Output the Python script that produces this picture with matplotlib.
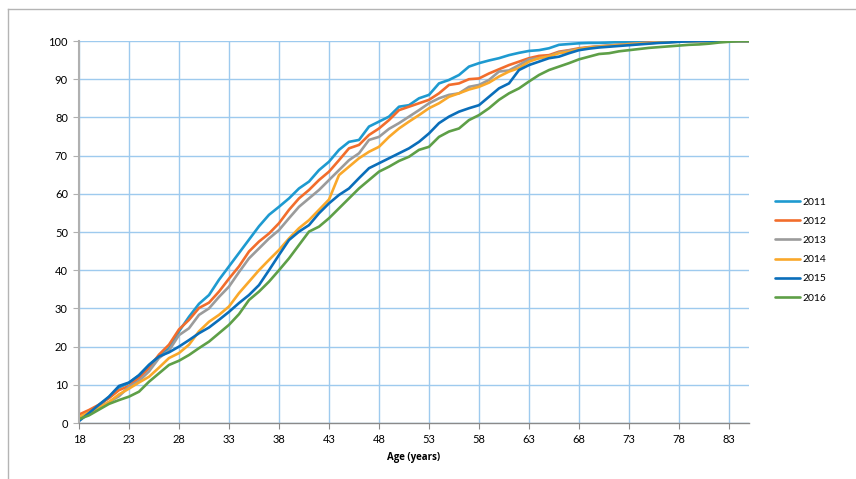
import numpy as np
import matplotlib
matplotlib.use("Agg")
import matplotlib.pyplot as plt
from matplotlib.lines import Line2D

plt.rcParams['font.family'] = ['Lato', 'DejaVu Sans']

# ages 18..85
ages = np.arange(18, 86)

y2011 = [1.0, 2.5, 4.5, 6.8, 9.3, 10.5, 12.5, 15.2, 17.5, 19.5, 24.0, 27.8, 31.2, 33.5, 37.5, 41.0, 44.5, 48.0,
         51.5, 54.5, 56.6, 58.8, 61.4, 63.2, 66.2, 68.4, 71.5, 73.6, 74.1, 77.6, 78.9, 80.2, 82.8, 83.2, 85.0, 85.9,
         88.9, 89.8, 91.1, 93.3, 94.2, 94.9, 95.5, 96.3, 96.9, 97.4, 97.6, 98.1, 99.0, 99.2, 99.4, 99.5, 99.5, 99.6,
         99.7, 99.8, 99.8, 99.9, 99.9, 100, 100, 100, 100, 100, 100, 100, 100, 100]
y2012 = [2.2, 3.4, 4.8, 6.5, 8.6, 9.7, 11.8, 14.4, 17.9, 20.5, 24.5, 27.0, 30.1, 31.5, 34.4, 37.8, 41.0, 44.9,
         47.5, 49.6, 52.3, 55.8, 58.8, 61.0, 63.6, 65.8, 68.8, 71.9, 72.8, 75.4, 77.1, 79.3, 81.9, 82.8, 83.7, 84.6,
         86.3, 88.5, 88.9, 90.0, 90.2, 91.5, 92.6, 93.7, 94.6, 95.5, 96.1, 96.3, 97.2, 97.6, 98.1, 98.4, 98.6, 98.8,
         99.0, 99.2, 99.4, 99.6, 100, 100, 100, 100, 100, 100, 100, 100, 100, 100]
y2013 = [1.0, 2.5, 4.0, 5.5, 7.0, 9.5, 11.0, 13.5, 17.0, 19.0, 23.0, 24.8, 28.3, 30.0, 33.0, 35.7, 39.5, 43.1,
         45.7, 48.3, 50.5, 53.6, 56.6, 58.8, 61.0, 63.6, 66.2, 68.8, 70.6, 74.1, 74.9, 77.0, 78.5, 80.2, 81.9, 83.7,
         85.0, 85.9, 86.3, 88.0, 88.5, 89.8, 92.0, 92.3, 93.7, 95.2, 95.5, 96.0, 97.0, 97.5, 97.9, 98.3, 98.6, 98.8,
         99.0, 99.2, 99.4, 99.5, 99.7, 99.8, 99.9, 100, 100, 100, 100, 100, 100, 100]
y2014 = [1.5, 2.8, 4.0, 5.5, 7.5, 9.0, 10.6, 12.1, 14.5, 17.0, 18.3, 20.5, 24.0, 26.5, 28.3, 30.5, 34.0, 37.0,
         40.0, 42.7, 45.3, 48.3, 51.0, 53.1, 55.8, 58.5, 64.9, 67.1, 69.3, 71.0, 72.3, 74.9, 77.1, 78.9, 80.6, 82.4,
         83.7, 85.4, 86.3, 87.3, 88.0, 89.1, 90.7, 92.0, 92.9, 94.6, 95.5, 96.0, 96.8, 97.2, 97.9, 98.3, 98.5, 98.7,
         98.9, 99.1, 99.3, 99.4, 99.6, 99.7, 99.8, 99.9, 100, 100, 100, 100, 100, 100]
y2015 = [0.5, 2.6, 4.8, 6.9, 9.7, 10.6, 12.5, 15.2, 17.4, 18.5, 20.0, 21.7, 23.5, 25.0, 27.0, 29.1, 31.4, 33.5,
         36.1, 40.0, 44.0, 47.9, 50.1, 51.8, 54.9, 57.5, 59.7, 61.4, 64.1, 66.7, 68.0, 69.3, 70.6, 71.9, 73.6, 75.8,
         78.5, 80.2, 81.5, 82.4, 83.2, 85.4, 87.6, 88.9, 92.4, 93.7, 94.6, 95.5, 95.9, 96.8, 97.6, 98.0, 98.3, 98.5,
         98.7, 98.9, 99.1, 99.3, 99.5, 99.6, 99.8, 99.9, 100, 100, 100, 100, 100, 100]
y2016 = [1.0, 2.0, 3.5, 5.0, 6.0, 6.9, 8.2, 10.8, 13.0, 15.2, 16.3, 17.8, 19.6, 21.3, 23.5, 25.7, 28.5, 32.2,
         34.4, 37.0, 40.0, 43.1, 46.6, 50.1, 51.4, 53.6, 56.2, 58.8, 61.4, 63.6, 65.8, 67.1, 68.6, 69.7, 71.5, 72.3,
         74.9, 76.3, 77.1, 79.3, 80.6, 82.4, 84.6, 86.3, 87.6, 89.4, 91.1, 92.4, 93.3, 94.2, 95.2, 95.9, 96.6, 96.8,
         97.3, 97.6, 97.9, 98.2, 98.4, 98.6, 98.8, 99.0, 99.1, 99.3, 99.6, 99.8, 100, 100]

series = [("2011", y2011, "#1E9AD0"), ("2012", y2012, "#F26D2C"), ("2013", y2013, "#9B9B9B"),
          ("2014", y2014, "#FAA82A"), ("2015", y2015, "#0A6EBA"), ("2016", y2016, "#5E9F47")]

fig = plt.figure(figsize=(8.56, 4.79), dpi=100)
ax = fig.add_axes([79/856, 1-423/479, 670/856, 382/479])

for name, vals, col in series:
    ax.plot(ages, vals, color=col, lw=1.9, label=name, solid_joinstyle='round', solid_capstyle='round')

ax.set_xlim(18, 85)
ax.set_ylim(0, 100)
ax.set_xticks(np.arange(18, 84, 5))
ax.set_yticks(np.arange(0, 101, 10))
ax.grid(True, color="#9ECAEE", lw=1.0)
ax.set_axisbelow(True)
for s in ["top", "right"]:
    ax.spines[s].set_visible(False)
ax.spines["left"].set_color("#B0B0B0")
ax.spines["left"].set_linewidth(1.5)
ax.spines["bottom"].set_color("#8A8A8A")
ax.spines["bottom"].set_linewidth(1.0)
ax.tick_params(axis="x", direction="out", length=4, color="#8A8A8A", labelsize=8, pad=4)
ax.tick_params(axis="y", direction="out", length=4, color="#B0B0B0", labelsize=8, pad=4)
ax.set_xlabel("Age (years)", fontsize=7, fontweight="bold", labelpad=5,
              family=["Open Sans", "DejaVu Sans"])

fig.legend(loc="upper left", bbox_to_anchor=(766/856, 1-188/479), frameon=False,
           fontsize=7.5, handlelength=2.4, labelspacing=0.95, handletextpad=0.2)

# outer frame
fig.add_artist(Line2D([8/856, 8/856], [0, 1-9/479], color="#B4B4B4", lw=1.0))
fig.add_artist(Line2D([8/856, 1], [1-9/479, 1-9/479], color="#B4B4B4", lw=1.0))

fig.savefig("out.png", dpi=100)
